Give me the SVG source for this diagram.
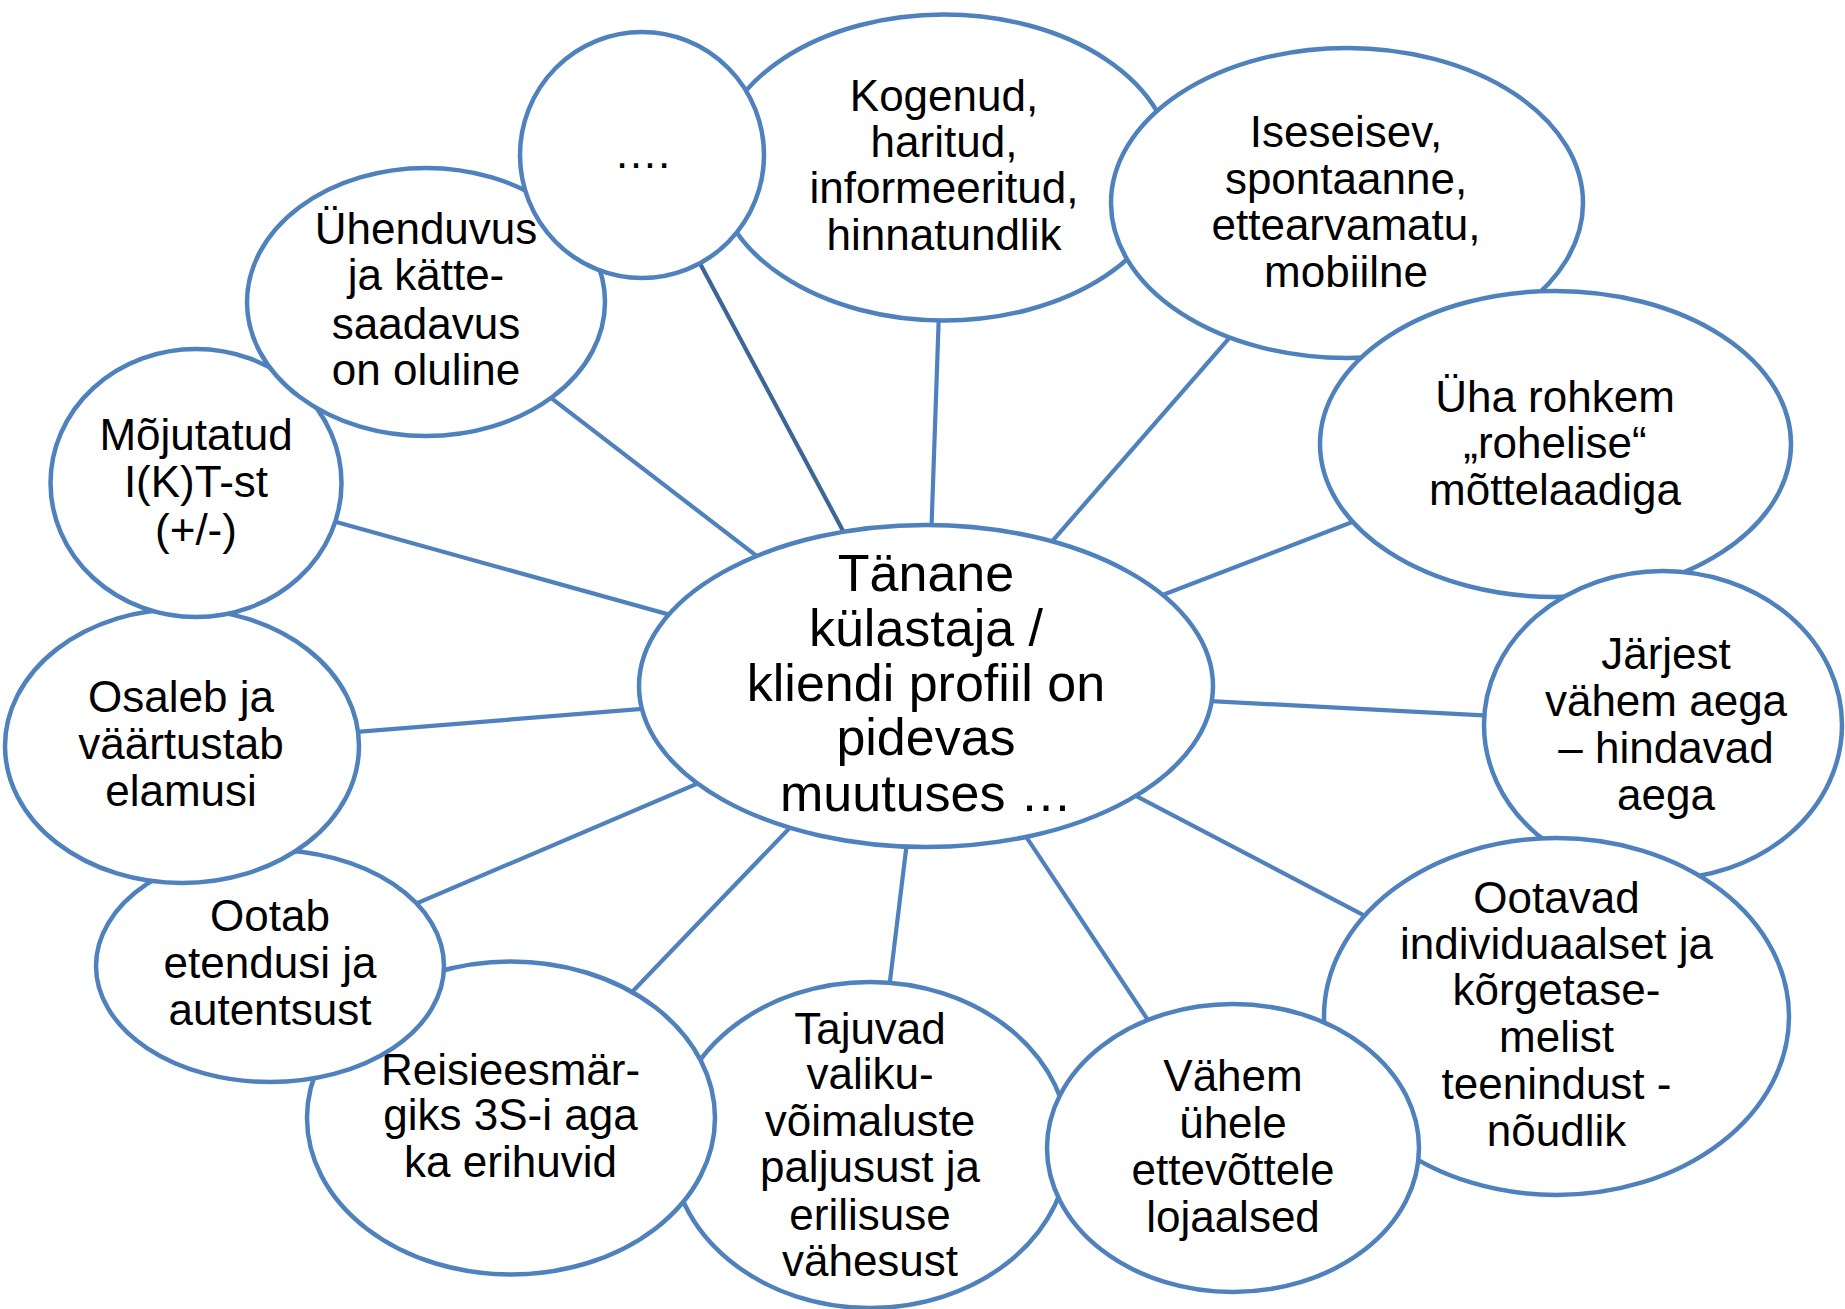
<svg xmlns="http://www.w3.org/2000/svg" width="1845" height="1309" viewBox="0 0 1845 1309">
<style>
.n{fill:#ffffff;stroke:#4F81BD;stroke-width:4.5}
.c{stroke:#4F81BD;stroke-width:4.2;fill:none}
.cd{stroke:#3C6697;stroke-width:4.2;fill:none}
text{font-family:"Liberation Sans",Arial,sans-serif;font-size:44px;fill:#000;text-anchor:middle}
.big{font-size:52px}
</style>
<rect width="1845" height="1309" fill="#ffffff"/>
<g id="connectors">
<line class="c" x1="926" y1="686" x2="944" y2="167"/>
<line class="cd" x1="926" y1="686" x2="642" y2="155"/>
<line class="c" x1="926" y1="686" x2="1347" y2="203"/>
<line class="c" x1="926" y1="686" x2="1555" y2="444"/>
<line class="c" x1="926" y1="686" x2="1664" y2="725"/>
<line class="c" x1="926" y1="686" x2="1556" y2="1016"/>
<line class="c" x1="926" y1="686" x2="1233" y2="1148"/>
<line class="c" x1="926" y1="686" x2="870" y2="1145"/>
<line class="c" x1="926" y1="686" x2="511" y2="1118"/>
<line class="c" x1="926" y1="686" x2="270" y2="966"/>
<line class="c" x1="926" y1="686" x2="182" y2="746"/>
<line class="c" x1="926" y1="686" x2="196" y2="483"/>
<line class="c" x1="926" y1="686" x2="426" y2="302"/>
</g>
<g id="node-center">
<ellipse class="n" cx="926" cy="686" rx="287" ry="161"/>
<text class="big" x="926" y="591">Tänane</text>
<text class="big" x="926" y="646">külastaja /</text>
<text class="big" x="926" y="701">kliendi profiil on</text>
<text class="big" x="926" y="755">pidevas</text>
<text class="big" x="926" y="811">muutuses …</text>
</g>
<g id="node-kogenud">
<ellipse class="n" cx="944" cy="167.5" rx="229" ry="153"/>
<text x="944" y="111">Kogenud,</text>
<text x="944" y="157">haritud,</text>
<text x="944" y="203">informeeritud,</text>
<text x="944" y="250">hinnatundlik</text>
</g>
<g id="node-iseseisev">
<ellipse class="n" cx="1347" cy="203" rx="236" ry="155"/>
<text x="1346" y="147">Iseseisev,</text>
<text x="1346" y="194">spontaanne,</text>
<text x="1346" y="240">ettearvamatu,</text>
<text x="1346" y="287">mobiilne</text>
</g>
<g id="node-uha">
<ellipse class="n" cx="1555.5" cy="444" rx="235.5" ry="153"/>
<text x="1555" y="412">Üha rohkem</text>
<text x="1555" y="458">„rohelise“</text>
<text x="1555" y="505">mõttelaadiga</text>
</g>
<g id="node-jarjest">
<ellipse class="n" cx="1663" cy="725" rx="179" ry="154"/>
<text x="1666" y="669">Järjest</text>
<text x="1666" y="716">vähem aega</text>
<text x="1666" y="763">– hindavad</text>
<text x="1666" y="810">aega</text>
</g>
<g id="node-ootavad">
<ellipse class="n" cx="1556.5" cy="1016.5" rx="232.5" ry="178.5"/>
<text x="1556.5" y="913">Ootavad</text>
<text x="1556.5" y="959">individuaalset ja</text>
<text x="1556.5" y="1005">kõrgetase-</text>
<text x="1556.5" y="1052">melist</text>
<text x="1556.5" y="1099">teenindust -</text>
<text x="1556.5" y="1146">nõudlik</text>
</g>
<g id="node-tajuvad">
<ellipse class="n" cx="870" cy="1145" rx="199" ry="163"/>
<text x="870" y="1044">Tajuvad</text>
<text x="870" y="1089">valiku-</text>
<text x="870" y="1136">võimaluste</text>
<text x="870" y="1182">paljusust ja</text>
<text x="870" y="1230">erilisuse</text>
<text x="870" y="1276">vähesust</text>
</g>
<g id="node-vahem">
<ellipse class="n" cx="1233" cy="1148" rx="186" ry="144"/>
<text x="1233" y="1091">Vähem</text>
<text x="1233" y="1138">ühele</text>
<text x="1233" y="1185">ettevõttele</text>
<text x="1233" y="1232">lojaalsed</text>
</g>
<g id="node-reisi">
<ellipse class="n" cx="511" cy="1118" rx="204" ry="156.5"/>
<text x="510.5" y="1085">Reisieesmär-</text>
<text x="510.5" y="1130">giks 3S-i aga</text>
<text x="510.5" y="1177">ka erihuvid</text>
</g>
<g id="node-ootab">
<ellipse class="n" cx="270" cy="966" rx="174" ry="116"/>
<text x="270" y="931">Ootab</text>
<text x="270" y="978">etendusi ja</text>
<text x="270" y="1025">autentsust</text>
</g>
<g id="node-osaleb">
<ellipse class="n" cx="182" cy="746" rx="177" ry="137"/>
<text x="181" y="712">Osaleb ja</text>
<text x="181" y="759">väärtustab</text>
<text x="181" y="806">elamusi</text>
</g>
<g id="node-mojutatud">
<ellipse class="n" cx="196" cy="483" rx="145.5" ry="134"/>
<text x="196" y="450">Mõjutatud</text>
<text x="196" y="497">I(K)T-st</text>
<text x="196" y="545">(+/-)</text>
</g>
<g id="node-uhenduvus">
<ellipse class="n" cx="426" cy="302" rx="179" ry="134"/>
<text x="426" y="244">Ühenduvus</text>
<text x="426" y="290">ja kätte-</text>
<text x="426" y="339">saadavus</text>
<text x="426" y="385">on oluline</text>
</g>
<g id="node-dots">
<ellipse class="n" cx="642" cy="155" rx="122" ry="123"/>
<text x="642" y="168">….</text>
</g>
</svg>
